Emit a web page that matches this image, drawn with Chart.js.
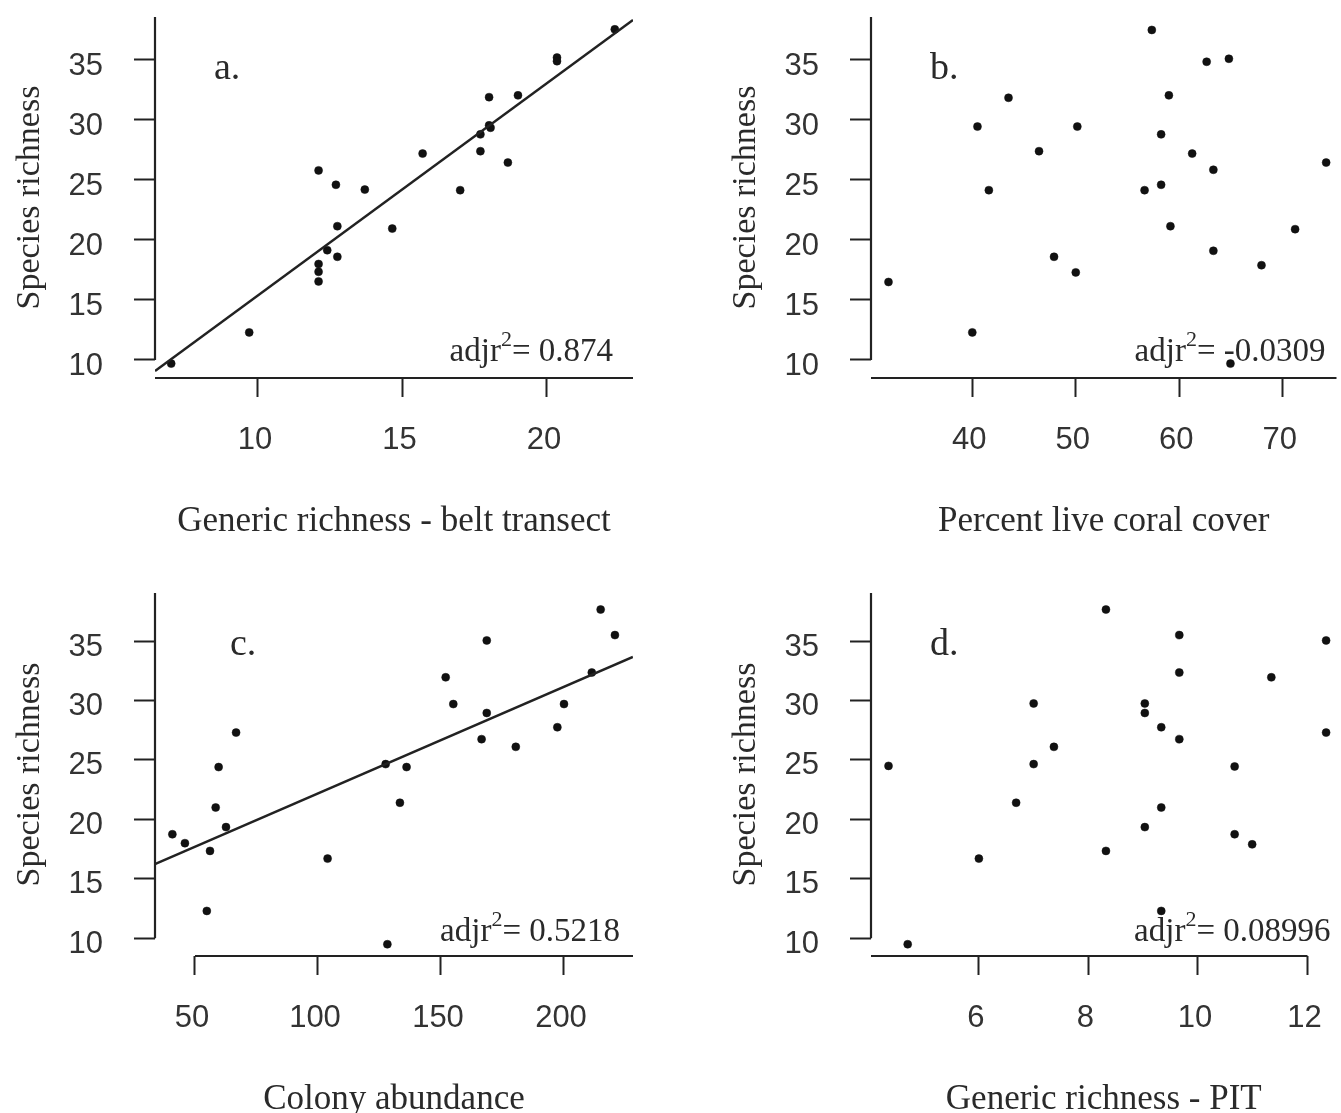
<!DOCTYPE html>
<html>
<head>
<meta charset="utf-8">
<script src="https://cdn.jsdelivr.net/npm/chart.js@4.4.1/dist/chart.umd.min.js"></script>
<style>
  html, body { margin: 0; padding: 0; background: #fff; overflow: hidden; }
  body { width: 1341px; height: 1113px; position: relative; }
  .panel { position: absolute; }
</style>
</head>
<body>
<div class="panel" style="left:0;top:0"><canvas id="panelA" width="670" height="560"></canvas></div>
<div class="panel" style="left:670px;top:0"><canvas id="panelB" width="671" height="560"></canvas></div>
<div class="panel" style="left:0;top:576px"><canvas id="panelC" width="670" height="560"></canvas></div>
<div class="panel" style="left:670px;top:576px"><canvas id="panelD" width="671" height="560"></canvas></div>
<script>
// shared y axis
const richnessTicks = [10, 15, 20, 25, 30, 35];

// a. generic richness (belt transect)
const beltX = [7.0, 9.7, 12.1, 12.7, 13.7, 15.7, 17.7, 18.0, 19.0, 20.35, 20.35, 22.35,
               18.0, 18.05, 17.7, 18.65, 17.0, 14.65, 12.75, 12.4, 12.75, 12.1, 12.1, 12.1];
const beltY = [9.7, 12.3, 25.8, 24.6, 24.2, 27.2, 28.8, 31.9, 32.05, 35.2, 34.9, 37.55,
               29.55, 29.35, 27.4, 26.45, 24.15, 20.95, 21.15, 19.15, 18.6, 18.0, 17.35, 16.55];
const beltTicks = [10, 15, 20];
const beltFitX = [6.44, 22.98];
const beltFitY = [9.08, 38.33];

// b. percent live coral cover
const coralX = [31.9, 40.0, 40.5, 41.6, 43.5, 46.45, 47.9, 50.0, 50.15, 56.65, 57.35, 58.25,
                58.25, 59.0, 59.15, 61.25, 62.65, 63.3, 63.3, 64.8, 64.95, 67.95, 71.2, 74.2];
const coralY = [16.5, 12.3, 29.45, 24.15, 31.85, 27.4, 18.6, 17.3, 29.45, 24.15, 37.5, 28.8,
                24.6, 32.05, 21.15, 27.2, 34.85, 25.85, 19.1, 35.1, 9.7, 17.9, 20.9, 26.45];
const coralTicks = [40, 50, 60, 70];

// c. colony abundance
const colonyX = [40.8, 45.9, 56.1, 54.8, 58.4, 59.6, 62.6, 66.7, 103.9, 127.5, 128.2, 133.3,
                 136.0, 151.9, 155.0, 166.5, 168.6, 168.6, 180.4, 197.3, 200.0, 211.3, 214.9, 220.7];
const colonyY = [18.75, 18.0, 17.35, 12.3, 21.0, 24.4, 19.35, 27.3, 16.7, 24.65, 9.5, 21.4,
                 24.4, 31.95, 29.7, 26.75, 35.05, 28.95, 26.1, 27.75, 29.7, 32.35, 37.65, 35.5];
const colonyTicks = [50, 100, 150, 200];
const colonyFitX = [33.7, 228.0];
const colonyFitY = [16.24, 33.66];

// d. generic richness (PIT)
const pitX = [4.35, 4.7, 6.0, 6.68, 7.0, 7.0, 7.37, 8.32, 8.32, 9.03, 9.03, 9.03,
              9.33, 9.33, 9.33, 9.66, 9.66, 9.66, 10.67, 10.67, 10.99, 11.34, 12.34, 12.34];
const pitY = [24.5, 9.5, 16.7, 21.4, 29.75, 24.65, 26.1, 37.65, 17.35, 29.75, 28.95, 19.35,
              27.75, 21.0, 12.3, 35.5, 32.35, 26.75, 24.45, 18.75, 17.9, 31.95, 35.05, 27.3];
const pitTicks = [6, 8, 10, 12];

const serif = "'Liberation Serif', 'Times New Roman', serif";
const sans = "'Liberation Sans', Arial, sans-serif";
const ink = '#222';

function toPoints(xs, ys) {
  return xs.map((x, i) => ({ x: x, y: ys[i] }));
}

const panels = [
  { id: 'panelA', xs: beltX, ys: beltY, fitX: beltFitX, fitY: beltFitY, xTicks: beltTicks,
    xMin: 6.44, xMax: 22.98, yMin: 8.5, yMax: 38.58, xTitle: 'Generic richness - belt transect',
    letter: 'a.', r2: '0.874', pad: { left: 0, top: 17, right: 37, bottom: 0 }, xHeight: 182,
    titlePad: 17, xLine: [null, null], letterPos: [59, 62], r2Pos: [20, 17] },
  { id: 'panelB', xs: coralX, ys: coralY, fitX: null, fitY: null, xTicks: coralTicks,
    xMin: 30.21, xMax: 75.2, yMin: 8.5, yMax: 38.58, xTitle: 'Percent live coral cover',
    letter: 'b.', r2: '-0.0309', pad: { left: 46, top: 17, right: 0, bottom: 0 }, xHeight: 182,
    titlePad: 17, xLine: [null, null], letterPos: [59, 62], r2Pos: [11, 17] },
  { id: 'panelC', xs: colonyX, ys: colonyY, fitX: colonyFitX, fitY: colonyFitY, xTicks: colonyTicks,
    xMin: 33.74, xMax: 228.05, yMin: 8.51, yMax: 39.04, xTitle: 'Colony abundance',
    letter: 'c.', r2: '0.5218', pad: { left: 0, top: 17, right: 37, bottom: 0 }, xHeight: 180,
    titlePad: 15, xLine: [50, null], letterPos: [75, 62], r2Pos: [13, 15] },
  { id: 'panelD', xs: pitX, ys: pitY, fitX: null, fitY: null, xTicks: pitTicks,
    xMin: 4.03, xMax: 12.53, yMin: 8.51, yMax: 39.04, xTitle: 'Generic richness - PIT',
    letter: 'd.', r2: '0.08996', pad: { left: 46, top: 17, right: 0, bottom: 0 }, xHeight: 180,
    titlePad: 15, xLine: [null, 12], letterPos: [59, 62], r2Pos: [6, 15] }
];

// detached axis lines, panel letter and the adj r^2 note
const decorPlugin = {
  id: 'decor',
  afterDraw(chart, args, opts) {
    const { ctx, chartArea: area } = chart;
    const xs = chart.scales.x, ys = chart.scales.y;
    ctx.save();
    ctx.strokeStyle = ink;
    ctx.lineWidth = 2.2;
    const x0 = opts.xLine[0] == null ? area.left : xs.getPixelForValue(opts.xLine[0]);
    const x1 = opts.xLine[1] == null ? area.right : xs.getPixelForValue(opts.xLine[1]);
    ctx.beginPath();
    ctx.moveTo(x0, area.bottom);
    ctx.lineTo(x1, area.bottom);
    ctx.stroke();
    ctx.beginPath();
    ctx.moveTo(area.left, area.top);
    ctx.lineTo(area.left, ys.getPixelForValue(richnessTicks[0]));
    ctx.stroke();

    ctx.fillStyle = '#2a2a2a';
    ctx.textBaseline = 'alphabetic';
    ctx.textAlign = 'left';
    ctx.font = '38px ' + serif;
    ctx.fillText(opts.letter, area.left + opts.letterPos[0], area.top + opts.letterPos[1]);

    const right = area.right - opts.r2Pos[0];
    const base = area.bottom - opts.r2Pos[1];
    ctx.textAlign = 'right';
    ctx.font = '33px ' + serif;
    const tail = '= ' + opts.r2;
    ctx.fillText(tail, right, base);
    const w1 = ctx.measureText(tail).width;
    ctx.font = '22px ' + serif;
    ctx.fillText('2', right - w1, base - 15);
    const w2 = ctx.measureText('2').width;
    ctx.font = '33px ' + serif;
    ctx.fillText('adjr', right - w1 - w2, base);
    ctx.restore();
  }
};

panels.forEach(p => {
  const datasets = [];
  if (p.fitX) {
    datasets.push({
      type: 'line', data: toPoints(p.fitX, p.fitY), showLine: true,
      borderColor: ink, borderWidth: 2.5, pointRadius: 0, fill: false
    });
  }
  datasets.push({
    type: 'scatter', data: toPoints(p.xs, p.ys),
    pointRadius: 4, pointBackgroundColor: '#111', pointBorderColor: '#111', pointBorderWidth: 0.5
  });

  new Chart(document.getElementById(p.id), {
    type: 'scatter',
    data: { datasets: datasets },
    plugins: [decorPlugin],
    options: {
      responsive: false,
      animation: false,
      layout: { padding: p.pad },
      plugins: {
        legend: { display: false },
        tooltip: { enabled: false },
        decor: { xLine: p.xLine, letter: p.letter, r2: p.r2, letterPos: p.letterPos, r2Pos: p.r2Pos }
      },
      scales: {
        x: {
          type: 'linear', position: 'bottom', min: p.xMin, max: p.xMax,
          afterBuildTicks: s => { s.ticks = p.xTicks.map(v => ({ value: v })); },
          afterFit: s => { s.height = p.xHeight; s.paddingLeft = 0; s.paddingRight = 0; },
          grid: { display: true, drawOnChartArea: false, drawTicks: true, tickLength: 19, tickWidth: 2, tickColor: ink },
          border: { display: false },
          ticks: { font: { family: sans, size: 31, lineHeight: 1 }, color: '#333', padding: 28, labelOffset: -3, maxRotation: 0, autoSkip: false, callback: v => String(v) },
          title: { display: true, text: p.xTitle, color: '#2a2a2a', font: { family: serif, size: 35, lineHeight: 1.2 }, padding: { top: 0, bottom: p.titlePad } }
        },
        y: {
          type: 'linear', position: 'left', min: p.yMin, max: p.yMax,
          afterBuildTicks: s => { s.ticks = richnessTicks.map(v => ({ value: v })); },
          afterFit: s => { s.width = 155; s.paddingTop = 0; s.paddingBottom = 0; },
          grid: { display: true, drawOnChartArea: false, drawTicks: true, tickLength: 21, tickWidth: 2, tickColor: ink },
          border: { display: false },
          ticks: { font: { family: sans, size: 31, lineHeight: 1 }, color: '#333', padding: 31, labelOffset: 6, autoSkip: false, callback: v => String(v) },
          title: { display: true, text: 'Species richness', color: '#2a2a2a', font: { family: serif, size: 34, lineHeight: 1.2 }, padding: { top: 10, bottom: 0 } }
        }
      }
    }
  });
});
</script>
</body>
</html>
